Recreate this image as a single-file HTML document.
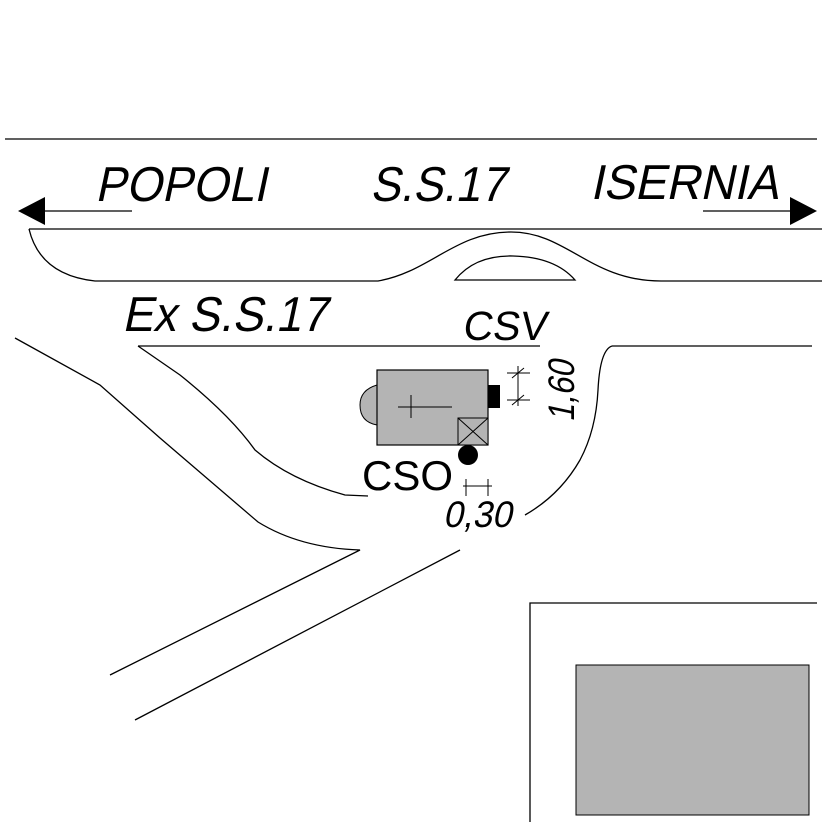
<!DOCTYPE html>
<html><head><style>html,body{margin:0;padding:0;background:#fff}svg{display:block}</style></head>
<body>
<svg width="827" height="827" viewBox="0 0 827 827" xmlns="http://www.w3.org/2000/svg" font-family="Liberation Sans, sans-serif">
<g fill="none" stroke="#000" stroke-width="1.3">
<line x1="5" y1="139" x2="817" y2="139"/>
<line x1="45" y1="211" x2="132" y2="211"/>
<line x1="703" y1="211" x2="790" y2="211"/>
<line x1="29" y1="229" x2="822" y2="229"/>
<path d="M29,229 Q40,275 95,281 L378,281 C430,272 455,232 511,232 C567,232 590,281 661,281 L822,281"/>
<path d="M455,280 Q475,255 513,256 Q555,257 575,280 Z"/>
<line x1="138" y1="346" x2="540" y2="346"/>
<path d="M138,346 L180,375 Q230,415 255,450 Q290,480 345,495 L368,496"/>
<path d="M612,346 L812,346"/>
<path d="M612,346 Q600,350 598,390 Q596,430 580,460 Q560,495 525,515"/>
<path d="M15,338 L100,385 L160,438 L258,522 Q300,548 360,550 L110,675"/>
<path d="M460,550 L135,720"/>
<path d="M530,822 L530,603 L817,603"/>
</g>
<path d="M18,211 L45,197 L45,225 Z" fill="#000"/>
<path d="M817,211 L790,197 L790,225 Z" fill="#000"/>
<path d="M377,385 Q360,390 360,405 Q360,422 377,425 Z" fill="#b4b4b4" stroke="#000"/>
<rect x="377" y="370" width="111" height="75" fill="#b4b4b4" stroke="#000" stroke-width="1.2"/>
<rect x="488" y="385" width="12" height="23" fill="#000"/>
<rect x="458" y="418" width="30" height="27" fill="#b4b4b4" stroke="#000"/>
<path d="M458,418 L488,445 M488,418 L458,445 M398,407 L452,407 M411,395 L411,418" stroke="#000"/>
<circle cx="468" cy="455" r="10" fill="#000"/>
<g stroke="#000" stroke-width="1">
<path d="M507,373 L530,373 M507,400 L530,400 M518,366 L518,406 M512,378 L524,368 M512,405 L524,395"/>
<path d="M463,486 L492,486 M466,479 L466,496 M488,479 L488,496"/>
</g>
<rect x="576" y="665" width="233" height="150" fill="#b4b4b4" stroke="#000"/>
<g font-size="49" fill="#000">
<text transform="translate(95,201) skewX(-12) scale(0.94,1)">POPOLI</text>
<text transform="translate(370,201) skewX(-12) scale(0.92,1)">S.S.17</text>
<text transform="translate(590,199) skewX(-12) scale(0.96,1)">ISERNIA</text>
<text transform="translate(122,331) skewX(-12) scale(0.94,1)">Ex S.S.17</text>
<text transform="translate(462,340) skewX(-8) scale(1.0,1)" font-size="41">CSV</text>
<text transform="translate(362,490)" font-size="42">CSO</text>
<text transform="translate(443,527) skewX(-12) scale(0.95,1)" font-size="37">0,30</text>
<text transform="translate(574,422) rotate(-90) skewX(-12) scale(0.85,1)" font-size="37">1,60</text>
</g>
</svg>
</body></html>
